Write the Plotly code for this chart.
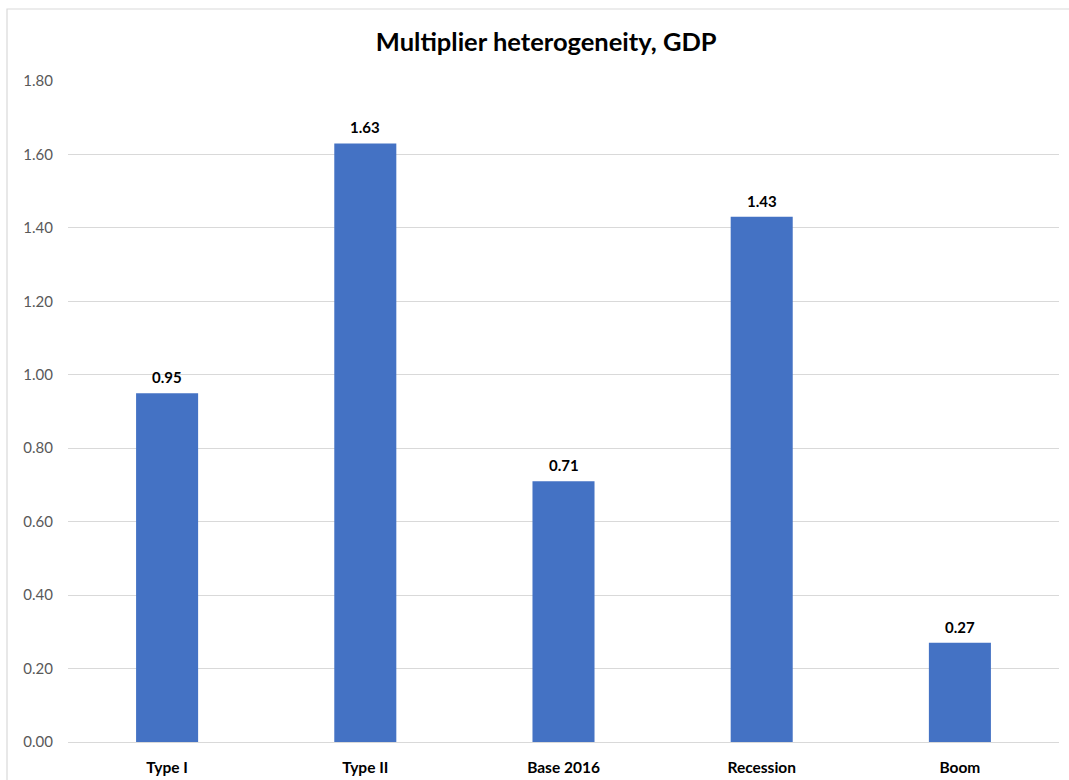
import plotly.graph_objects as go

categories = ["Type I", "Type II", "Base 2016", "Recession", "Boom"]
values = [0.95, 1.63, 0.71, 1.43, 0.27]
y_ticks = [0, 0.2, 0.4, 0.6, 0.8, 1.0, 1.2, 1.4, 1.6, 1.8]
y_tick_labels = [f"{v:.2f}" for v in y_ticks]
title_text = "Multiplier heterogeneity, GDP"

FONT = "Lato, 'Open Sans', sans-serif"

fig = go.Figure()
fig.add_trace(go.Bar(
    x=categories, y=values,
    marker=dict(color="#4472C4", line=dict(width=0)),
    width=0.313,
    hoverinfo="x+y",
))

for c, v in zip(categories, values):
    fig.add_annotation(x=c, y=v, text=f"<b>{v:.2f}</b>", showarrow=False,
                       yanchor="bottom", yshift=5,
                       font=dict(family=FONT, size=15, color="#000000"))

fig.update_layout(
    width=1069, height=780,
    margin=dict(l=68, r=10, t=81, b=38),
    paper_bgcolor="white", plot_bgcolor="white",
    showlegend=False,
    title=dict(text=f"<b>{title_text}</b>", x=0.511, xanchor="center",
               y=1 - 42 / 780, yanchor="middle",
               font=dict(family=FONT, size=25.5, color="#000000")),
    xaxis=dict(
        tickfont=dict(family=FONT, size=15.5, color="#000000"),
        tickvals=categories,
        ticktext=[f"<b>{c}</b>" for c in categories],
        showgrid=False, showline=False, zeroline=False,
        ticks="", ticklabelstandoff=14, automargin=False,
    ),
    yaxis=dict(
        range=[0, 1.8],
        tickvals=y_ticks, ticktext=y_tick_labels,
        tickfont=dict(family=FONT, size=15, color="#595959"),
        showgrid=True, gridcolor="#D9D9D9", gridwidth=1,
        zeroline=True, zerolinecolor="#D9D9D9", zerolinewidth=1,
        showline=False, ticks="", ticklabelstandoff=14, automargin=False,
    ),
    shapes=[dict(type="rect", xref="paper", yref="paper",
                 x0=-61 / 991, x1=(1075 - 68) / 991,
                 y0=-60 / 661, y1=(742 - 9) / 661,
                 line=dict(color="#D9D9D9", width=1.2),
                 fillcolor="rgba(0,0,0,0)", layer="below")],
)

fig.write_html("out.html")
